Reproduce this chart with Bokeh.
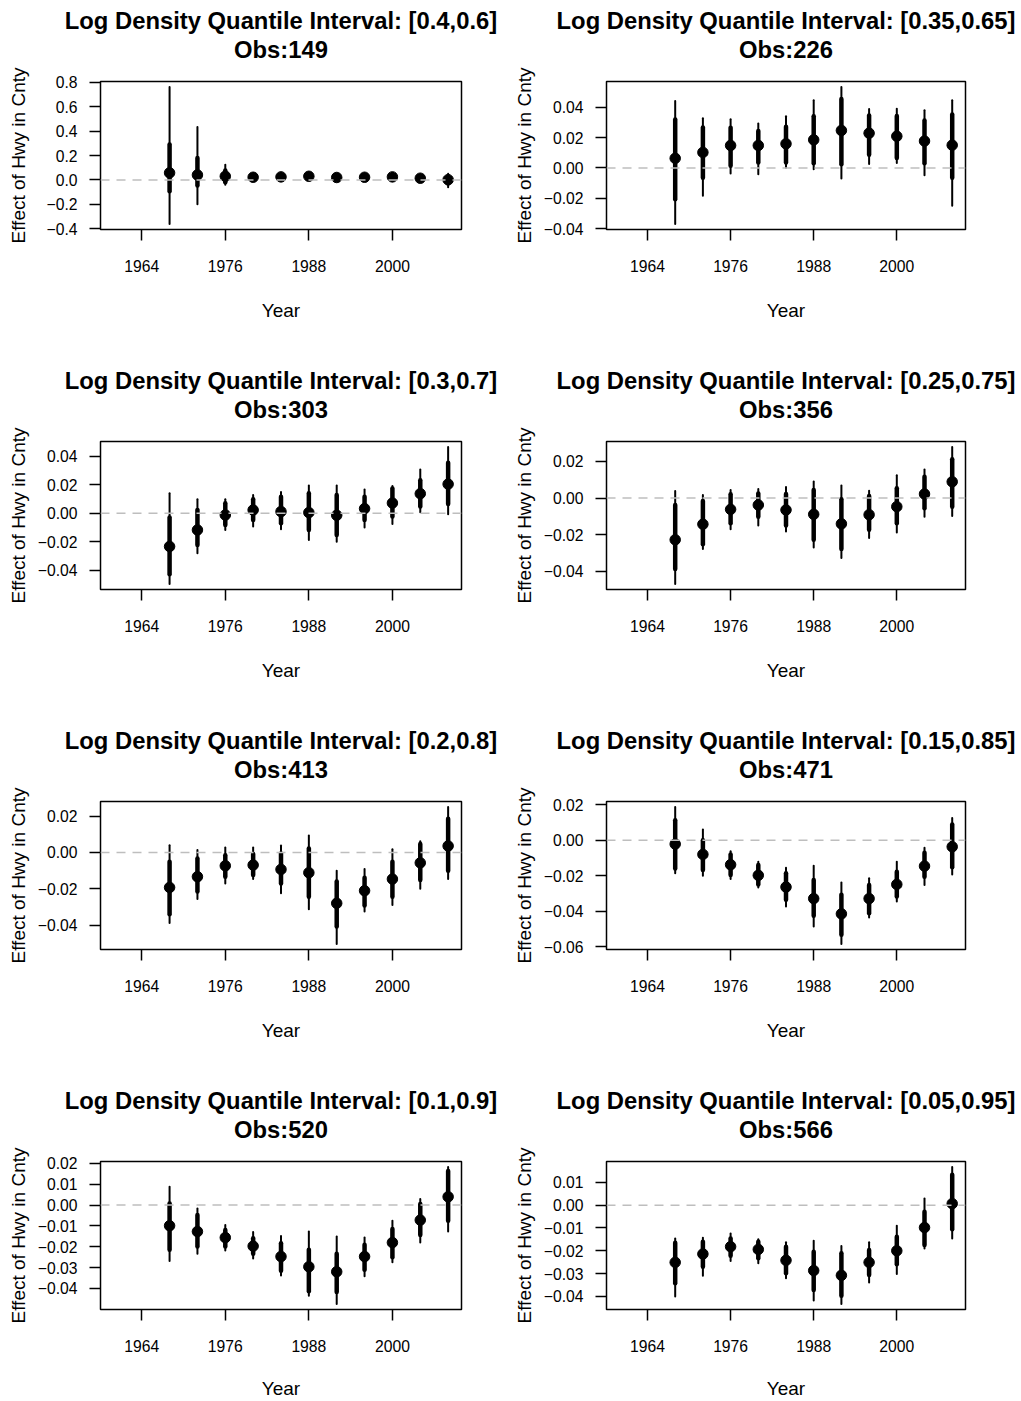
from bokeh.plotting import figure
from bokeh.models import Range1d, FixedTicker, Span, Title
from bokeh.layouts import column, row
from bokeh.embed import file_html
from bokeh.resources import INLINE

# ---------------- data ----------------
years = [1968, 1972, 1976, 1980, 1984, 1988, 1992, 1996, 2000, 2004, 2008]
x_ticks = [1964, 1976, 1988, 2000]
x_tick_labels = ["1964", "1976", "1988", "2000"]
x_lim = (1960, 2008)

intervals = ["[0.4,0.6]", "[0.35,0.65]", "[0.3,0.7]", "[0.25,0.75]",
             "[0.2,0.8]", "[0.15,0.85]", "[0.1,0.9]", "[0.05,0.95]"]
obs = [149, 226, 303, 356, 413, 471, 520, 566]

# panel 1  [0.4,0.6]
est_1 = [0.058, 0.041, 0.030, 0.022, 0.025, 0.030, 0.020, 0.022, 0.025, 0.014, 0.002]
thick_hi_1 = [0.290, 0.180, 0.077, 0.040, 0.042, 0.045, 0.036, 0.037, 0.040, 0.030, 0.030]
thick_lo_1 = [-0.093, -0.045, -0.020, 0.004, 0.008, 0.012, 0.004, 0.006, 0.010, -0.002, -0.030]
thin_hi_1 = [0.763, 0.434, 0.124, 0.055, 0.055, 0.060, 0.050, 0.050, 0.055, 0.045, 0.050]
thin_lo_1 = [-0.362, -0.200, -0.040, -0.008, -0.005, 0.000, -0.010, -0.008, -0.005, -0.018, -0.060]
yt_1 = [-0.4, -0.2, 0.0, 0.2, 0.4, 0.6, 0.8]
yl_1 = ["\u22120.4", "\u22120.2", "0.0", "0.2", "0.4", "0.6", "0.8"]

# panel 2  [0.35,0.65]
est_2 = [0.0064, 0.0103, 0.0149, 0.0149, 0.0160, 0.0186, 0.0248, 0.0230, 0.0210, 0.0178, 0.0151]
thick_hi_2 = [0.0320, 0.0267, 0.0265, 0.0245, 0.0272, 0.0342, 0.0456, 0.0346, 0.0344, 0.0313, 0.0353]
thick_lo_2 = [-0.0206, -0.0064, 0.0015, 0.0037, 0.0037, 0.0031, 0.0024, 0.0088, 0.0066, 0.0031, -0.0064]
thin_hi_2 = [0.0443, 0.0329, 0.0322, 0.0294, 0.0342, 0.0447, 0.0535, 0.0390, 0.0392, 0.0381, 0.0447]
thin_lo_2 = [-0.0370, -0.0184, -0.0037, -0.0042, 0.0002, -0.0009, -0.0070, 0.0026, 0.0033, -0.0048, -0.0250]
yt_2 = [-0.04, -0.02, 0.0, 0.02, 0.04]
yl_2 = ["\u22120.04", "\u22120.02", "0.00", "0.02", "0.04"]

# panel 3  [0.3,0.7]
est_3 = [-0.0233, -0.0117, -0.0012, 0.0023, 0.0012, 0.0005, -0.0014, 0.0033, 0.0072, 0.0138, 0.0205]
thick_hi_3 = [-0.0030, 0.0023, 0.0070, 0.0098, 0.0117, 0.0140, 0.0128, 0.0117, 0.0175, 0.0233, 0.0355]
thick_lo_3 = [-0.0429, -0.0222, -0.0082, -0.0047, -0.0070, -0.0117, -0.0152, -0.0047, -0.0023, 0.0047, 0.0065]
thin_hi_3 = [0.0140, 0.0098, 0.0098, 0.0128, 0.0149, 0.0196, 0.0196, 0.0168, 0.0191, 0.0308, 0.0466]
thin_lo_3 = [-0.0497, -0.0280, -0.0117, -0.0093, -0.0112, -0.0187, -0.0200, -0.0100, -0.0075, 0.0007, -0.0007]
yt_3 = [-0.04, -0.02, 0.0, 0.02, 0.04]
yl_3 = ["\u22120.04", "\u22120.02", "0.00", "0.02", "0.04"]

# panel 4  [0.25,0.75]
est_4 = [-0.0228, -0.0143, -0.0062, -0.0038, -0.0065, -0.0089, -0.0141, -0.0091, -0.0047, 0.0022, 0.0089]
thick_hi_4 = [-0.0038, -0.0016, 0.0020, 0.0025, 0.0022, 0.0044, -0.0007, 0.0011, 0.0053, 0.0116, 0.0212]
thick_lo_4 = [-0.0388, -0.0252, -0.0138, -0.0102, -0.0150, -0.0228, -0.0279, -0.0174, -0.0138, -0.0056, -0.0047]
thin_hi_4 = [0.0038, 0.0016, 0.0044, 0.0049, 0.0060, 0.0091, 0.0069, 0.0040, 0.0125, 0.0156, 0.0279]
thin_lo_4 = [-0.0470, -0.0279, -0.0170, -0.0150, -0.0183, -0.0270, -0.0328, -0.0219, -0.0189, -0.0102, -0.0098]
yt_4 = [-0.04, -0.02, 0.0, 0.02]
yl_4 = ["\u22120.04", "\u22120.02", "0.00", "0.02"]

# panel 5  [0.2,0.8]
est_5 = [-0.0192, -0.0133, -0.0073, -0.0069, -0.0093, -0.0111, -0.0279, -0.0210, -0.0146, -0.0057, 0.0036]
thick_hi_5 = [-0.0051, -0.0033, -0.0015, -0.0009, -0.0005, 0.0022, -0.0160, -0.0139, -0.0051, 0.0046, 0.0186]
thick_lo_5 = [-0.0339, -0.0215, -0.0133, -0.0124, -0.0170, -0.0243, -0.0407, -0.0292, -0.0243, -0.0151, -0.0100]
thin_hi_5 = [0.0040, 0.0013, 0.0027, 0.0027, 0.0038, 0.0093, -0.0100, -0.0091, 0.0018, 0.0062, 0.0250]
thin_lo_5 = [-0.0388, -0.0255, -0.0170, -0.0146, -0.0224, -0.0312, -0.0503, -0.0325, -0.0288, -0.0199, -0.0146]
yt_5 = [-0.04, -0.02, 0.0, 0.02]
yl_5 = ["\u22120.04", "\u22120.02", "0.00", "0.02"]

# panel 6  [0.15,0.85]
est_6 = [-0.0022, -0.0080, -0.0138, -0.0198, -0.0264, -0.0329, -0.0415, -0.0329, -0.0249, -0.0146, -0.0037]
thick_hi_6 = [0.0112, 0.0000, -0.0080, -0.0140, -0.0187, -0.0224, -0.0308, -0.0252, -0.0178, -0.0071, 0.0088]
thick_lo_6 = [-0.0159, -0.0168, -0.0196, -0.0249, -0.0336, -0.0426, -0.0533, -0.0411, -0.0318, -0.0206, -0.0153]
thin_hi_6 = [0.0187, 0.0060, -0.0062, -0.0121, -0.0155, -0.0144, -0.0239, -0.0215, -0.0121, -0.0043, 0.0125]
thin_lo_6 = [-0.0187, -0.0200, -0.0219, -0.0267, -0.0374, -0.0486, -0.0585, -0.0436, -0.0346, -0.0252, -0.0193]
yt_6 = [-0.06, -0.04, -0.02, 0.0, 0.02]
yl_6 = ["\u22120.06", "\u22120.04", "\u22120.02", "0.00", "0.02"]

# panel 7  [0.1,0.9]
est_7 = [-0.0099, -0.0127, -0.0156, -0.0197, -0.0247, -0.0296, -0.0320, -0.0247, -0.0180, -0.0072, 0.0040]
thick_hi_7 = [0.0008, -0.0048, -0.0119, -0.0159, -0.0183, -0.0215, -0.0234, -0.0191, -0.0115, 0.0005, 0.0164]
thick_lo_7 = [-0.0215, -0.0199, -0.0199, -0.0234, -0.0315, -0.0414, -0.0417, -0.0311, -0.0250, -0.0143, -0.0075]
thin_hi_7 = [0.0088, -0.0016, -0.0096, -0.0129, -0.0148, -0.0127, -0.0151, -0.0156, -0.0075, 0.0029, 0.0183]
thin_lo_7 = [-0.0268, -0.0234, -0.0218, -0.0256, -0.0338, -0.0435, -0.0475, -0.0342, -0.0275, -0.0180, -0.0127]
yt_7 = [-0.04, -0.03, -0.02, -0.01, 0.0, 0.01, 0.02]
yl_7 = ["\u22120.04", "\u22120.03", "\u22120.02", "\u22120.01", "0.00", "0.01", "0.02"]

# panel 8  [0.05,0.95]
est_8 = [-0.0251, -0.0214, -0.0182, -0.0194, -0.0242, -0.0287, -0.0308, -0.0251, -0.0200, -0.0098, 0.0007]
thick_hi_8 = [-0.0165, -0.0160, -0.0146, -0.0160, -0.0182, -0.0204, -0.0211, -0.0197, -0.0138, -0.0029, 0.0134]
thick_lo_8 = [-0.0343, -0.0270, -0.0222, -0.0233, -0.0299, -0.0372, -0.0398, -0.0306, -0.0259, -0.0175, -0.0106]
thin_hi_8 = [-0.0146, -0.0143, -0.0124, -0.0149, -0.0163, -0.0156, -0.0179, -0.0163, -0.0090, 0.0029, 0.0168]
thin_lo_8 = [-0.0401, -0.0310, -0.0245, -0.0255, -0.0321, -0.0418, -0.0434, -0.0340, -0.0302, -0.0190, -0.0146]
yt_8 = [-0.04, -0.03, -0.02, -0.01, 0.0, 0.01]
yl_8 = ["\u22120.04", "\u22120.03", "\u22120.02", "\u22120.01", "0.00", "0.01"]

panels = [
    (est_1, thick_lo_1, thick_hi_1, thin_lo_1, thin_hi_1, yt_1, yl_1),
    (est_2, thick_lo_2, thick_hi_2, thin_lo_2, thin_hi_2, yt_2, yl_2),
    (est_3, thick_lo_3, thick_hi_3, thin_lo_3, thin_hi_3, yt_3, yl_3),
    (est_4, thick_lo_4, thick_hi_4, thin_lo_4, thin_hi_4, yt_4, yl_4),
    (est_5, thick_lo_5, thick_hi_5, thin_lo_5, thin_hi_5, yt_5, yl_5),
    (est_6, thick_lo_6, thick_hi_6, thin_lo_6, thin_hi_6, yt_6, yl_6),
    (est_7, thick_lo_7, thick_hi_7, thin_lo_7, thin_hi_7, yt_7, yl_7),
    (est_8, thick_lo_8, thick_hi_8, thin_lo_8, thin_hi_8, yt_8, yl_8),
]

# ---------------- style ----------------
FONT = "Liberation Sans"
TICK_PX = 15.7
LAB_PX = 19.0
TITLE_PX = 23.8
ADV = {"0": 0.556, "1": 0.556, "2": 0.556, "3": 0.556, "4": 0.556, "5": 0.556,
       "6": 0.556, "7": 0.556, "8": 0.556, "9": 0.556, ".": 0.278, "\u2212": 0.584}


def text_w(s):
    return sum(ADV.get(c, 0.556) for c in s) * TICK_PX


def make_title(text, standoff, size=TITLE_PX):
    return Title(text=text, align="center", text_font=FONT,
                 text_font_size="%.1fpx" % size, text_font_style="bold",
                 text_color="black", standoff=standoff)


def make_panel(idx):
    est, tlo, thi, wlo, whi, yt, yl = panels[idx]
    col = idx % 2
    rw = idx // 2
    last = rw == 3

    lo, hi = min(wlo), max(whi)
    pad = 0.04 * (hi - lo)
    xpad = 0.04 * (x_lim[1] - x_lim[0])

    width = 510 if col == 0 else 511
    bl = 100 if col == 0 else 94
    br = width - bl - 361
    height = 321 if last else 360
    bt = 81
    bb = height - bt - 148

    p = figure(width=width, height=height,
               x_range=Range1d(x_lim[0] - xpad, x_lim[1] + xpad),
               y_range=Range1d(lo - pad, hi + pad),
               output_backend="svg", toolbar_location=None,
               min_border_left=bl, min_border_right=br,
               min_border_top=bt, min_border_bottom=bb,
               background_fill_color="white", border_fill_color="white",
               outline_line_color="black", outline_line_width=1.5)
    p.grid.visible = False

    # title (two lines); first added sits next to the frame
    p.add_layout(make_title(" ", 16, size=1.0), "above")          # spacer
    p.add_layout(make_title("Obs:%d" % obs[idx], 0), "above")
    p.add_layout(make_title("Log Density Quantile Interval: " + intervals[idx], 0), "above")

    # intervals and points
    p.segment(x0=years, y0=wlo, x1=years, y1=whi, line_color="black",
              line_width=2, line_cap="round")
    p.segment(x0=years, y0=tlo, x1=years, y1=thi, line_color="black",
              line_width=4.5, line_cap="round")
    p.scatter(x=years, y=est, size=10.5, color="black")

    p.add_layout(Span(location=0, dimension="width", line_color="#BEBEBE",
                      line_width=1.5, line_dash="9 7"))

    # x axis
    xa = p.xaxis[0]
    xa.ticker = FixedTicker(ticks=x_ticks, minor_ticks=[])
    xa.major_label_overrides = dict(zip(x_ticks, x_tick_labels))
    xa.axis_label = "Year"
    xa.axis_line_color = None
    xa.major_tick_out = 11
    xa.major_tick_in = 0
    xa.major_tick_line_color = "black"
    xa.major_tick_line_width = 1.5
    xa.minor_tick_line_color = None
    xa.major_label_standoff = 19
    xa.major_label_text_font = FONT
    xa.major_label_text_font_size = "%.1fpx" % TICK_PX
    xa.major_label_text_color = "black"
    xa.axis_label_text_font = FONT
    xa.axis_label_text_font_size = "%.1fpx" % LAB_PX
    xa.axis_label_text_font_style = "normal"
    xa.axis_label_text_color = "black"
    xa.axis_label_standoff = 23 if last else 25

    # y axis
    ya = p.yaxis[0]
    ya.ticker = FixedTicker(ticks=yt, minor_ticks=[])
    ya.major_label_overrides = dict(zip(yt, yl))
    ya.axis_label = "Effect of Hwy in Cnty"
    ya.axis_line_color = None
    ya.major_tick_out = 11
    ya.major_tick_in = 0
    ya.major_tick_line_color = "black"
    ya.major_tick_line_width = 1.5
    ya.minor_tick_line_color = None
    ya.major_label_standoff = 12
    ya.major_label_text_font = FONT
    ya.major_label_text_font_size = "%.1fpx" % TICK_PX
    ya.major_label_text_color = "black"
    ya.axis_label_text_font = FONT
    ya.axis_label_text_font_size = "%.1fpx" % LAB_PX
    ya.axis_label_text_font_style = "normal"
    ya.axis_label_text_color = "black"
    maxw = max(text_w(s) for s in yl)
    ya.axis_label_standoff = int(round(max(0, 69.0 - 11 - 12 - maxw)))
    return p


figs = [make_panel(i) for i in range(8)]
layout = column(*[row(figs[2 * r], figs[2 * r + 1]) for r in range(4)])

open("out.html", "w").write(file_html(layout, INLINE))
